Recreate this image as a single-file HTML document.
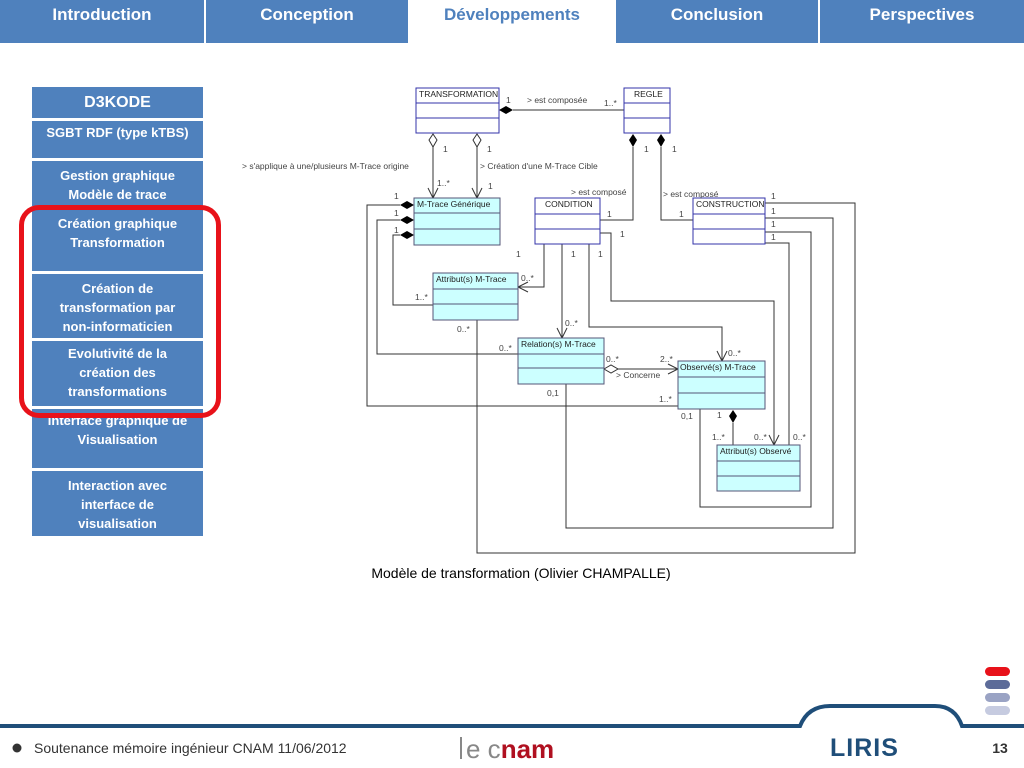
<!DOCTYPE html>
<html><head><meta charset="utf-8"><style>
body{margin:0;width:1024px;height:768px;overflow:hidden;background:#fff;font-family:"Liberation Sans",sans-serif}
.tab{position:absolute;top:0;height:43px;background:#4f81bd;color:#fff;font-weight:bold;font-size:17px;text-align:center;line-height:30px}
.sb{position:absolute;left:32px;width:171px;background:#4f81bd;color:#fff;font-weight:bold;font-size:13px;text-align:center;line-height:19px}
</style></head><body>
<div class="tab" style="left:0;width:204px">Introduction</div>
<div class="tab" style="left:206px;width:202px">Conception</div>
<div class="tab" style="left:410px;width:204px;background:#fff;color:#4f81bd">Développements</div>
<div class="tab" style="left:616px;width:202px">Conclusion</div>
<div class="tab" style="left:820px;width:204px">Perspectives</div>

<div class="sb" style="top:87px;height:31px;font-size:16px;line-height:31px">D3KODE</div>
<div class="sb" style="top:121px;height:37px;padding-top:2px;box-sizing:border-box">SGBT RDF (type kTBS)</div>
<div class="sb" style="top:161px;height:45px;padding-top:5px;box-sizing:border-box">Gestion graphique<br>Modèle de trace</div>
<div class="sb" style="top:209px;height:62px;padding-top:5px;box-sizing:border-box">Création graphique<br>Transformation</div>
<div class="sb" style="top:274px;height:64px;padding-top:5px;box-sizing:border-box">Création de<br>transformation par<br>non-informaticien</div>
<div class="sb" style="top:341px;height:65px;padding-top:3px;box-sizing:border-box">Evolutivité de la<br>création des<br>transformations</div>
<div class="sb" style="top:409px;height:59px;padding-top:2px;box-sizing:border-box">Interface graphique de<br>Visualisation</div>
<div class="sb" style="top:471px;height:65px;padding-top:5px;box-sizing:border-box">Interaction avec<br>interface de<br>visualisation</div>
<div style="position:absolute;left:19px;top:205px;width:192px;height:203px;border:5px solid #e8121a;border-radius:20px"></div>

<svg width="1024" height="768" style="position:absolute;left:0;top:0" font-family="Liberation Sans, sans-serif">
<g fill="none" stroke="#333" stroke-width="1">
<!-- transformation-regle -->
<line x1="513" y1="110" x2="624" y2="110"/>
<line x1="433" y1="147" x2="433" y2="198"/><line x1="477" y1="147" x2="477" y2="198"/>
<polyline points="428,188 433,198 438,188"/><polyline points="472,188 477,198 482,188"/>
<polyline points="633,147 633,220 600,220"/>
<polyline points="661,147 661,220 693,220"/>
<polyline points="765,203 855,203 855,553 477,553 477,320"/>
<polyline points="765,218 833,218 833,528 566,528 566,384"/>
<polyline points="765,232 811,232 811,507 700,507 700,409"/>
<polyline points="765,243 789,243 789,445"/>
<polyline points="600,233 611,233 611,301 774,301 774,445"/>
<polyline points="769,435 774,445 779,435"/>
<polyline points="544,244 544,287 518,287"/><polyline points="528,282 518,287 528,292"/>
<polyline points="562,244 562,338"/><polyline points="557,328 562,338 567,328"/>
<polyline points="589,244 589,327 722,327 722,361"/><polyline points="717,351 722,361 727,351"/>
<polyline points="400,205 367,205 367,406 678,406"/>
<polyline points="400,220 377,220 377,354 518,354"/>
<polyline points="400,235 393,235 393,305 433,305"/>
<line x1="618" y1="369" x2="678" y2="369"/><polyline points="668,364 678,369 668,374"/>
<line x1="733" y1="423" x2="733" y2="445"/>
</g>
<g fill="#000">
<polygon points="499,110 506,106 513,110 506,114"/>
<polygon points="633,134 637,140 633,147 629,140"/>
<polygon points="661,134 665,140 661,147 657,140"/>
<polygon points="414,205 407,201 400,205 407,209"/>
<polygon points="414,220 407,216 400,220 407,224"/>
<polygon points="414,235 407,231 400,235 407,239"/>
<polygon points="733,410 737,416 733,423 729,416"/>
</g>
<g fill="#fff" stroke="#333"><polygon points="433,134 437,140 433,147 429,140"/><polygon points="477,134 481,140 477,147 473,140"/><polygon points="604,369 611,365 618,369 611,373"/></g>
<!-- boxes -->
<g stroke="#3333aa" fill="#fff">
<rect x="416" y="88" width="83" height="45"/><line x1="416" y1="103" x2="499" y2="103"/><line x1="416" y1="118" x2="499" y2="118"/>
<rect x="624" y="88" width="46" height="45"/><line x1="624" y1="103" x2="670" y2="103"/><line x1="624" y1="118" x2="670" y2="118"/>
<rect x="535" y="198" width="65" height="46"/><line x1="535" y1="214" x2="600" y2="214"/><line x1="535" y1="229" x2="600" y2="229"/>
<rect x="693" y="198" width="72" height="46"/><line x1="693" y1="214" x2="765" y2="214"/><line x1="693" y1="229" x2="765" y2="229"/>
</g>
<g stroke="#557" fill="#ccffff">
<rect x="414" y="198" width="86" height="47"/><line x1="414" y1="213" x2="500" y2="213"/><line x1="414" y1="229" x2="500" y2="229"/>
<rect x="433" y="273" width="85" height="47"/><line x1="433" y1="289" x2="518" y2="289"/><line x1="433" y1="304" x2="518" y2="304"/>
<rect x="518" y="338" width="86" height="46"/><line x1="518" y1="354" x2="604" y2="354"/><line x1="518" y1="368" x2="604" y2="368"/>
<rect x="678" y="361" width="87" height="48"/><line x1="678" y1="377" x2="765" y2="377"/><line x1="678" y1="393" x2="765" y2="393"/>
<rect x="717" y="445" width="83" height="46"/><line x1="717" y1="461" x2="800" y2="461"/><line x1="717" y1="476" x2="800" y2="476"/>
</g>
<g font-size="8.5" fill="#222">
<text x="419" y="97">TRANSFORMATION</text><text x="634" y="97">REGLE</text>
<text x="545" y="207">CONDITION</text><text x="696" y="207">CONSTRUCTION</text>
<text x="417" y="207">M-Trace Générique</text><text x="436" y="282">Attribut(s) M-Trace</text>
<text x="521" y="347">Relation(s) M-Trace</text><text x="680" y="370">Observé(s) M-Trace</text>
<text x="720" y="454">Attribut(s) Observé</text>
</g>
<g font-size="8.5" fill="#444">
<text x="506" y="103">1</text><text x="527" y="103">&gt; est composée</text><text x="604" y="106">1..*</text>
<text x="443" y="152">1</text><text x="487" y="152">1</text>
<text x="242" y="169">&gt; s'applique à une/plusieurs M-Trace origine</text>
<text x="480" y="169">&gt; Création d'une M-Trace Cible</text>
<text x="437" y="186">1..*</text><text x="488" y="189">1</text>
<text x="644" y="152">1</text><text x="672" y="152">1</text>
<text x="571" y="195">&gt; est composé</text><text x="663" y="197">&gt; est composé</text>
<text x="607" y="217">1</text><text x="679" y="217">1</text><text x="620" y="237">1</text>
<text x="771" y="199">1</text><text x="771" y="214">1</text><text x="771" y="227">1</text><text x="771" y="240">1</text>
<text x="394" y="199">1</text><text x="394" y="216">1</text><text x="394" y="233">1</text>
<text x="516" y="257">1</text><text x="571" y="257">1</text><text x="598" y="257">1</text>
<text x="521" y="281">0..*</text><text x="415" y="300">1..*</text><text x="457" y="332">0..*</text>
<text x="565" y="326">0..*</text><text x="499" y="351">0..*</text>
<text x="606" y="362">0..*</text><text x="660" y="362">2..*</text><text x="616" y="378">&gt; Concerne</text>
<text x="728" y="356">0..*</text><text x="547" y="396">0,1</text><text x="659" y="402">1..*</text>
<text x="681" y="419">0,1</text><text x="717" y="418">1</text>
<text x="712" y="440">1..*</text><text x="754" y="440">0..*</text><text x="793" y="440">0..*</text>
</g>
<text x="521" y="578" font-size="14" text-anchor="middle" fill="#000">Modèle de transformation (Olivier CHAMPALLE)</text>
<!-- pills -->
<rect x="985" y="667" width="25" height="9" rx="4.5" fill="#e8121a"/>
<rect x="985" y="680" width="25" height="9" rx="4.5" fill="#5d6c99"/>
<rect x="985" y="693" width="25" height="9" rx="4.5" fill="#9aa3c4"/>
<rect x="985" y="706" width="25" height="9" rx="4.5" fill="#c6cbe0"/>
<!-- footer line -->
<path d="M0,726 L800,726 Q808,706 830,706 L935,706 Q955,706 962,726 L1024,726" fill="none" stroke="#1f4e79" stroke-width="4"/>
<circle cx="17" cy="748" r="4.5" fill="#333"/>
<text x="34" y="753" font-size="14" fill="#333">Soutenance mémoire ingénieur CNAM 11/06/2012</text>
<line x1="461" y1="737" x2="461" y2="759" stroke="#888" stroke-width="2"/>
<text x="466" y="758" font-size="26" fill="#888">e c<tspan fill="#b01020" font-weight="bold">nam</tspan></text>
<text x="830" y="756" font-size="25" font-weight="bold" fill="#1f4e79" letter-spacing="1">LIRIS</text>
<text x="1000" y="753" font-size="14" font-weight="bold" fill="#333" text-anchor="middle">13</text>
</svg>
</body></html>
